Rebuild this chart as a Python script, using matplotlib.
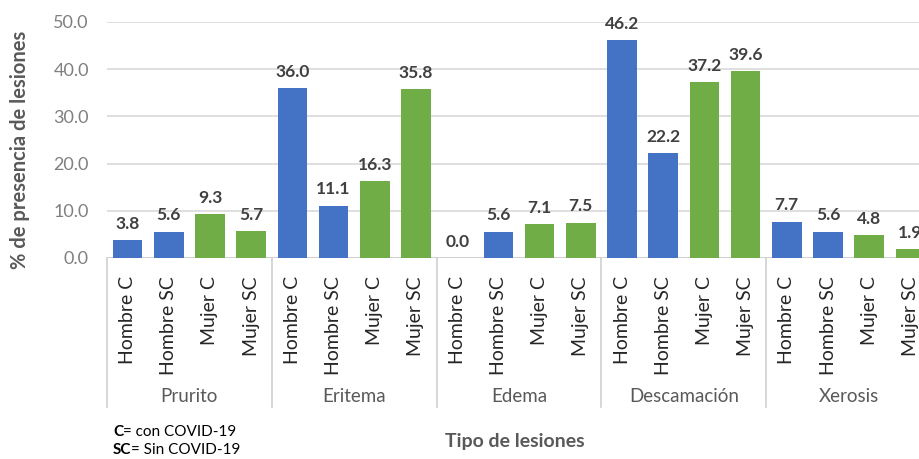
import matplotlib.pyplot as plt
import matplotlib.transforms as mtransforms
import numpy as np

plt.rcParams['font.family'] = ['Lato', 'DejaVu Sans']

# Lesion types and subgroups
lesiones = ['Prurito', 'Eritema', 'Edema', 'Descamación', 'Xerosis']
subgrupos = ['Hombre C', 'Hombre SC', 'Mujer C', 'Mujer SC']

# % de presencia per lesion type
hombre_c = [3.8, 36.0, 0.0, 46.2, 7.7]
hombre_sc = [5.6, 11.1, 5.6, 22.2, 5.6]
mujer_c = [9.3, 16.3, 7.1, 37.2, 4.8]
mujer_sc = [5.7, 35.8, 7.5, 39.6, 1.9]

yticks = [0, 10, 20, 30, 40, 50]

azul = '#4472C4'
verde = '#70AD47'
series = [(hombre_c, azul), (hombre_sc, azul), (mujer_c, verde), (mujer_sc, verde)]

fig = plt.figure(figsize=(9.19, 4.59), dpi=100)
W, H = 919, 459
# plot area runs a bit past the right edge (last group is cut off)
left, right, bottom, top = 107, 931, 258, 22
ax = fig.add_axes([left / W, 1 - bottom / H, (right - left) / W, (bottom - top) / H])

n_sub = len(subgrupos)
for j, (vals, color) in enumerate(series):
    x = np.arange(len(lesiones)) * n_sub + j
    bars = ax.bar(x, vals, width=0.72, color=color, zorder=3)
    for rect, v in zip(bars, vals):
        ax.annotate(f'{v:.1f}', (rect.get_x() + rect.get_width() / 2, v),
                    xytext=(0, 6), textcoords='offset points', ha='center', va='bottom',
                    fontsize=12.5, fontweight='bold', color='#404040', zorder=4)

ax.set_xlim(-0.5, len(lesiones) * n_sub - 0.5)
ax.set_ylim(0, 50)
ax.set_yticks(yticks)
ax.set_yticklabels([f'{t:.1f}' for t in yticks], fontsize=13, color='#7F7F7F')
ax.yaxis.grid(True, color='#D9D9D9', linewidth=1.2, zorder=0)
ax.set_axisbelow(True)
for s in ax.spines.values():
    s.set_visible(False)
ax.axhline(0, color='#D0D0D0', linewidth=1.2, zorder=2)

ax.set_xticks(np.arange(len(lesiones) * n_sub))
ax.set_xticklabels(subgrupos * len(lesiones), rotation=90, va='top', ha='center',
                   fontsize=14, color='#262626')
ax.tick_params(axis='both', length=0)
ax.tick_params(axis='x', pad=13)
ax.tick_params(axis='y', pad=13)

# group names and separators of the category axis
trans = mtransforms.blended_transform_factory(ax.transData, fig.transFigure)
for i, name in enumerate(lesiones):
    ax.text(i * n_sub + 1.5, 1 - 397 / H, name, transform=trans, ha='center', va='center',
            fontsize=13.5, color='#595959', clip_on=False)
for i in range(len(lesiones) + 1):
    xs = i * n_sub - 0.5
    ax.plot([xs, xs], [1 - 258 / H, 1 - 407 / H], transform=trans, color='#D0D0D0',
            linewidth=1.2, clip_on=False)

fig.text(20 / W, 1 - 150 / H, '% de presencia de lesiones', rotation=90, ha='center',
         va='center', fontsize=14.5, fontweight='bold', color='#595959')
fig.text(515 / W, 1 - 441 / H, 'Tipo de lesiones', ha='center', va='center',
         fontsize=14, fontweight='bold', color='#595959')

# abbreviations note
for k, (abbr, rest) in enumerate([('C', '= con COVID-19'), ('SC', '= Sin COVID-19')]):
    t = fig.text(113 / W, 1 - (432 + 18 * k) / H, abbr, ha='left', va='center',
                 fontsize=11, fontweight='bold', color='#000000')
    ax.annotate(rest, xy=(1, 0.5), xycoords=t, ha='left', va='center',
                fontsize=11, color='#000000', annotation_clip=False)

fig.savefig('out.png', dpi=100)
